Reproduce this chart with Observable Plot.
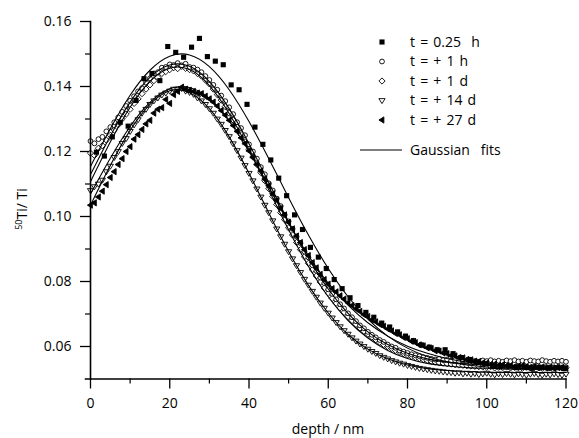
<!DOCTYPE html>
<html>
<head>
<meta charset="utf-8">
<script src="https://cdn.jsdelivr.net/npm/d3@7"></script>
<script src="https://cdn.jsdelivr.net/npm/@observablehq/plot@0.6"></script>
<style>
  body { margin: 0; background: white; }
  svg text { font-family: "Open Sans", sans-serif; }
</style>
</head>
<body>
<script>
// ---- tick values ----
const xMajor = [0, 20, 40, 60, 80, 100, 120];
const xMinor = [10, 30, 50, 70, 90, 110];
const yMajor = [0.06, 0.08, 0.10, 0.12, 0.14, 0.16];
const yMinor = [0.07, 0.09, 0.11, 0.13, 0.15];

// ---- legend labels ----
const seriesLabels = ["t = 0.25  h", "t = + 1 h", "t = + 1 d", "t = + 14 d", "t = + 27 d"];
const fitLabel = "Gaussian   fits";

// ---- depths (nm) ----
const depth = [0,1,2,3,4,5,6,7,8,9,10,11,12,13,14,15,16,17,18,19,20,21,22,23,24,25,26,27,28,29,30,31,32,33,34,35,36,37,38,39,40,41,42,43,44,45,46,47,48,49,50,51,52,53,54,55,56,57,58,59,60,61,62,63,64,65,66,67,68,69,70,71,72,73,74,75,76,77,78,79,80,81,82,83,84,85,86,87,88,89,90,91,92,93,94,95,96,97,98,99,100,101,102,103,104,105,106,107,108,109,110,111,112,113,114,115,116,117,118,119,120];
const depthQuarterHour = [1.5,3.5,5.5,7.5,9.5,11.5,13.5,15.5,17.5,19.5,21.5,23.5,25.5,27.5,29.5,31.5,33.5,35.5,37.5,39.5,41.5,43.5,45.5,47.5,49.5,51.5,53.5,55.5,57.5,59.5,61.5,63.5,65.5,67.5,69.5,71.5,73.5,75.5,77.5,79.5,81.5,83.5,85.5,87.5,89.5,91.5,93.5,95.5,97.5,99.5,101.5,103.5,105.5,107.5,109.5,111.5,113.5,115.5,117.5,119.5];
const fitDepth = [0,5,10,15,20,25,30,35,40,45,50,55,60,65,70,75,80,85,90,95,100,105,110,115,120];

// ---- measured 50Ti/Ti ratios ----
const quarterHour = [0.1198,0.1186,0.1245,0.1290,0.1278,0.1357,0.1424,0.1440,0.1418,0.1523,0.1505,0.1490,0.1521,0.1548,0.1492,0.1478,0.1467,0.1405,0.1390,0.1345,0.1275,0.1222,0.1174,0.1118,0.1064,0.1005,0.0960,0.0905,0.0875,0.0840,0.0806,0.0778,0.0750,0.0726,0.0705,0.0690,0.0672,0.0660,0.0645,0.0632,0.0618,0.0605,0.0598,0.0590,0.0590,0.0578,0.0566,0.0560,0.0552,0.0547,0.0541,0.0538,0.0540,0.0535,0.0537,0.0533,0.0536,0.0534,0.0535,0.0532];

const oneHour = [0.1232,0.1225,0.1238,0.1245,0.1262,0.1275,0.1290,0.1305,0.1322,0.1340,0.1356,0.1370,0.1385,0.1395,0.1412,0.1425,0.1440,0.1444,0.1458,0.1460,0.1468,0.1466,0.1472,0.1465,0.1470,0.1460,0.1458,0.1452,0.1444,0.1432,0.1420,0.1405,0.1390,0.1372,0.1355,0.1336,0.1315,0.1290,0.1272,0.1250,0.1222,0.1200,0.1178,0.1152,0.1130,0.1102,0.1080,0.1055,0.1032,0.1005,0.0985,0.0962,0.0938,0.0918,0.0892,0.0874,0.0850,0.0833,0.0812,0.0795,0.0776,0.0762,0.0745,0.0730,0.0717,0.0702,0.0690,0.0678,0.0665,0.0656,0.0645,0.0636,0.0628,0.0620,0.0614,0.0606,0.0600,0.0596,0.0588,0.0584,0.0580,0.0576,0.0573,0.0570,0.0567,0.0565,0.0562,0.0560,0.0562,0.0558,0.0560,0.0556,0.0558,0.0555,0.0557,0.0554,0.0558,0.0555,0.0553,0.0557,0.0555,0.0558,0.0554,0.0556,0.0553,0.0557,0.0555,0.0558,0.0554,0.0556,0.0553,0.0557,0.0555,0.0554,0.0558,0.0555,0.0553,0.0556,0.0554,0.0556,0.0553];

const oneDay = [0.1195,0.1188,0.1210,0.1218,0.1235,0.1250,0.1266,0.1282,0.1300,0.1315,0.1330,0.1348,0.1362,0.1378,0.1392,0.1405,0.1418,0.1428,0.1440,0.1446,0.1452,0.1458,0.1455,0.1462,0.1456,0.1452,0.1448,0.1440,0.1432,0.1420,0.1408,0.1392,0.1375,0.1358,0.1338,0.1318,0.1297,0.1275,0.1252,0.1230,0.1206,0.1183,0.1160,0.1135,0.1110,0.1086,0.1062,0.1037,0.1012,0.0990,0.0965,0.0943,0.0920,0.0898,0.0876,0.0856,0.0836,0.0817,0.0798,0.0780,0.0764,0.0748,0.0733,0.0719,0.0705,0.0692,0.0680,0.0668,0.0657,0.0647,0.0638,0.0629,0.0621,0.0613,0.0606,0.0600,0.0594,0.0588,0.0583,0.0578,0.0574,0.0570,0.0566,0.0563,0.0560,0.0557,0.0555,0.0552,0.0550,0.0549,0.0547,0.0546,0.0544,0.0543,0.0542,0.0541,0.0540,0.0539,0.0538,0.0537,0.0536,0.0538,0.0534,0.0536,0.0535,0.0537,0.0534,0.0536,0.0535,0.0533,0.0536,0.0534,0.0537,0.0535,0.0533,0.0536,0.0534,0.0535,0.0537,0.0534,0.0535];

const fourteenDays = [0.1080,0.1092,0.1100,0.1112,0.1138,0.1155,0.1182,0.1200,0.1225,0.1240,0.1262,0.1282,0.1298,0.1318,0.1330,0.1345,0.1356,0.1365,0.1374,0.1380,0.1386,0.1392,0.1390,0.1394,0.1386,0.1382,0.1376,0.1365,0.1356,0.1345,0.1332,0.1318,0.1300,0.1284,0.1265,0.1246,0.1224,0.1203,0.1180,0.1157,0.1133,0.1110,0.1085,0.1060,0.1035,0.1012,0.0987,0.0962,0.0938,0.0915,0.0892,0.0870,0.0849,0.0828,0.0807,0.0789,0.0770,0.0752,0.0734,0.0718,0.0703,0.0688,0.0674,0.0661,0.0649,0.0638,0.0627,0.0617,0.0608,0.0600,0.0592,0.0585,0.0579,0.0572,0.0567,0.0562,0.0557,0.0553,0.0549,0.0546,0.0542,0.0539,0.0536,0.0533,0.0531,0.0529,0.0527,0.0525,0.0524,0.0522,0.0521,0.0520,0.0518,0.0519,0.0516,0.0518,0.0515,0.0517,0.0514,0.0516,0.0518,0.0515,0.0513,0.0516,0.0514,0.0517,0.0515,0.0513,0.0516,0.0514,0.0512,0.0515,0.0517,0.0514,0.0512,0.0515,0.0513,0.0516,0.0514,0.0512,0.0515];

const twentySevenDays = [0.1035,0.1042,0.1060,0.1078,0.1098,0.1120,0.1138,0.1160,0.1178,0.1200,0.1215,0.1238,0.1252,0.1268,0.1285,0.1296,0.1318,0.1330,0.1335,0.1360,0.1348,0.1375,0.1385,0.1398,0.1392,0.1388,0.1385,0.1380,0.1378,0.1370,0.1362,0.1352,0.1340,0.1326,0.1312,0.1296,0.1280,0.1262,0.1242,0.1224,0.1202,0.1182,0.1160,0.1140,0.1115,0.1095,0.1070,0.1050,0.1025,0.1005,0.0982,0.0962,0.0940,0.0920,0.0898,0.0880,0.0858,0.0842,0.0822,0.0806,0.0792,0.0778,0.0768,0.0756,0.0746,0.0735,0.0726,0.0716,0.0708,0.0698,0.0692,0.0682,0.0676,0.0668,0.0662,0.0654,0.0648,0.0640,0.0636,0.0628,0.0624,0.0616,0.0612,0.0605,0.0602,0.0596,0.0594,0.0587,0.0586,0.0580,0.0578,0.0572,0.0571,0.0566,0.0565,0.0560,0.0559,0.0555,0.0554,0.0550,0.0549,0.0545,0.0546,0.0542,0.0544,0.0540,0.0541,0.0538,0.0540,0.0541,0.0537,0.0536,0.0538,0.0535,0.0537,0.0534,0.0536,0.0533,0.0535,0.0536,0.0533];

// ---- Gaussian fit curves (read at 5 nm steps) ----
const fitQuarterHour = [0.1154,0.1270,0.1373,0.1450,0.1493,0.1497,0.1461,0.1390,0.1292,0.1178,0.1058,0.0943,0.0840,0.0753,0.0684,0.0632,0.0595,0.0569,0.0553,0.0543,0.0537,0.0534,0.0532,0.0531,0.0530];
const fitOneHour = [0.1129,0.1248,0.1352,0.1428,0.1466,0.1462,0.1415,0.1332,0.1224,0.1104,0.0984,0.0872,0.0777,0.0702,0.0645,0.0606,0.0579,0.0562,0.0552,0.0546,0.0543,0.0541,0.0540,0.0540,0.0540];
const fitOneDay = [0.1107,0.1229,0.1336,0.1416,0.1456,0.1452,0.1403,0.1317,0.1205,0.1082,0.0959,0.0847,0.0753,0.0680,0.0626,0.0588,0.0563,0.0548,0.0540,0.0535,0.0533,0.0531,0.0530,0.0530,0.0530];
const fitFourteenDays = [0.1035,0.1157,0.1265,0.1345,0.1387,0.1381,0.1332,0.1245,0.1133,0.1011,0.0892,0.0788,0.0703,0.0637,0.0592,0.0562,0.0543,0.0532,0.0526,0.0523,0.0521,0.0520,0.0520,0.0520,0.0520];
const fitTwentySevenDays = [0.1069,0.1179,0.1277,0.1351,0.1393,0.1397,0.1363,0.1294,0.1200,0.1091,0.0980,0.0880,0.0795,0.0727,0.0673,0.0632,0.0601,0.0579,0.0563,0.0552,0.0545,0.0540,0.0537,0.0535,0.0534];

// ---- custom marker shapes ----
const triDown = { draw(ctx, size) { const r = Math.sqrt(size / Math.PI) * 1.35;
  ctx.moveTo(-r, -r * 0.6); ctx.lineTo(r, -r * 0.6); ctx.lineTo(0, r); ctx.closePath(); } };
const triLeft = { draw(ctx, size) { const r = Math.sqrt(size / Math.PI) * 1.35;
  ctx.moveTo(-r, 0); ctx.lineTo(r * 0.6, -r); ctx.lineTo(r * 0.6, r); ctx.closePath(); } };
const diamondOpen = { draw(ctx, size) { const r = Math.sqrt(size / Math.PI) * 1.3;
  ctx.moveTo(0, -r); ctx.lineTo(r, 0); ctx.lineTo(0, r); ctx.lineTo(-r, 0); ctx.closePath(); } };

const styles = [
  {symbol: "square", fill: "black", stroke: "none", r: 2.9},
  {symbol: "circle", fill: "white", stroke: "black", r: 2.4},
  {symbol: diamondOpen, fill: "white", stroke: "black", r: 2.4},
  {symbol: triDown, fill: "white", stroke: "black", r: 2.3},
  {symbol: triLeft, fill: "black", stroke: "black", r: 2.3}
];

const dotMark = (xs, ys, s) => Plot.dot(xs, {x: xs, y: ys, symbol: () => s.symbol, r: s.r, fill: s.fill, stroke: s.stroke, strokeWidth: 0.9});
const fitMark = ys => Plot.line(fitDepth, {x: fitDepth, y: ys, curve: "natural", stroke: "black", strokeWidth: 1.1});

const chart = Plot.plot({
  width: 579, height: 438,
  marginLeft: 90, marginRight: 13.5, marginTop: 21, marginBottom: 59.5,
  x: {domain: [0, 120]},
  y: {domain: [0.05, 0.16]},
  symbol: {type: "identity"},
  style: {fontFamily: "Open Sans", fontSize: "14px", color: "black", background: "white", overflow: "visible"},
  marks: [
    Plot.axisY({ticks: yMajor, tickSize: 10, tickPadding: 9, tickFormat: d3.format(".2f"), label: null, strokeWidth: 1.3}),
    Plot.axisY({ticks: yMinor, tickSize: 5, tickFormat: () => "", label: null, strokeWidth: 1.2}),
    Plot.axisX({ticks: xMajor, tickSize: 10, tickPadding: 9, tickFormat: d3.format("d"), label: null, strokeWidth: 1.3}),
    Plot.axisX({ticks: xMinor, tickSize: 5, tickFormat: () => "", label: null, strokeWidth: 1.2}),
    dotMark(depth, fourteenDays, styles[3]),
    dotMark(depth, oneDay, styles[2]),
    dotMark(depth, oneHour, styles[1]),
    dotMark(depth, twentySevenDays, styles[4]),
    dotMark(depthQuarterHour, quarterHour, styles[0]),
    fitMark(fitFourteenDays),
    fitMark(fitOneDay),
    fitMark(fitOneHour),
    fitMark(fitTwentySevenDays),
    fitMark(fitQuarterHour),
    Plot.frame({anchor: "left", strokeWidth: 1.6}),
    Plot.frame({anchor: "bottom", strokeWidth: 1.6, insetLeft: -5})
  ]
});

const svg = d3.select(chart);

// axis titles
svg.append("text")
  .attr("x", 328).attr("y", 434)
  .attr("text-anchor", "middle").attr("font-size", 14).attr("fill", "black")
  .text("depth / nm");
const yl = svg.append("text")
  .attr("transform", "translate(27,209) rotate(-90)")
  .attr("text-anchor", "middle").attr("font-size", 14).attr("fill", "black");
yl.append("tspan").attr("font-size", 9).attr("dy", -5).text("50");
yl.append("tspan").attr("dy", 5).text("Ti/ Ti");

// legend
const lg = svg.append("g").attr("font-size", 14).attr("fill", "black").attr("text-anchor", "start");
const rowY = [42, 61.5, 81, 100.5, 120];
seriesLabels.forEach((lab, i) => {
  const s = styles[i];
  lg.append("path")
    .attr("transform", `translate(382,${rowY[i]})`)
    .attr("d", d3.symbol(s.symbol === "square" ? d3.symbolSquare : s.symbol === "circle" ? d3.symbolCircle : s.symbol, s.r * s.r * Math.PI)())
    .attr("fill", s.fill).attr("stroke", s.stroke).attr("stroke-width", 0.9);
  lg.append("text").attr("x", 410).attr("y", rowY[i]).attr("dy", "0.35em")
    .attr("text-anchor", "start").attr("word-spacing", 1.5).style("white-space", "pre").text(lab);
});
lg.append("line").attr("x1", 360).attr("x2", 402).attr("y1", 150).attr("y2", 150)
  .attr("stroke", "black").attr("stroke-width", 1.1);
lg.append("text").attr("x", 410).attr("y", 150).attr("dy", "0.35em")
  .attr("text-anchor", "start").style("white-space", "pre").text(fitLabel);

document.body.appendChild(chart);
</script>
</body>
</html>
